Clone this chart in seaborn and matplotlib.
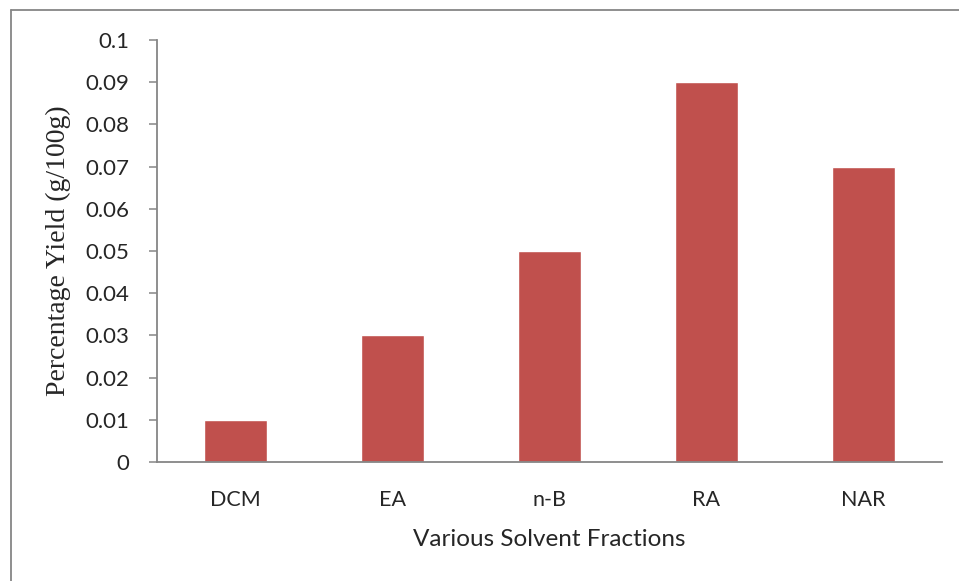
import matplotlib as mpl
mpl.use('Agg')
import matplotlib.pyplot as plt
from matplotlib.lines import Line2D
import seaborn as sns
import pandas as pd

fractions = ['DCM', 'EA', 'n-B', 'RA', 'NAR']
yields = [0.01, 0.03, 0.05, 0.09, 0.07]
yticks = [0, 0.01, 0.02, 0.03, 0.04, 0.05, 0.06, 0.07, 0.08, 0.09, 0.1]
ytick_labels = ['0', '0.01', '0.02', '0.03', '0.04', '0.05', '0.06', '0.07', '0.08', '0.09', '0.1']

df = pd.DataFrame({'fraction': fractions, 'yield': yields})

sns.set_style('white')
plt.rcParams['font.family'] = ['Lato', 'DejaVu Sans']

W, H = 959, 581
fig = plt.figure(figsize=(W / 100, H / 100), dpi=100)
ax = fig.add_axes([157 / W, 1 - 462 / H, (942 - 157) / W, (462 - 40) / H])

sns.barplot(data=df, x='fraction', y='yield', color='#C0504D', saturation=1,
            width=0.4, ax=ax)

ax.set_ylim(0, 0.1)
ax.set_xlim(-0.5, 4.5)
ax.set_yticks(yticks)
ax.set_yticklabels(ytick_labels, fontsize=16)
ax.tick_params(axis='y', direction='out', length=6, width=1.1, color='#868686',
               left=True, pad=14)
ax.tick_params(axis='x', length=0, labelsize=15.5, pad=20)

for s in ['top', 'right']:
    ax.spines[s].set_visible(False)
for s in ['left', 'bottom']:
    ax.spines[s].set_color('#868686')
    ax.spines[s].set_linewidth(1.3)

ax.set_xlabel('Various Solvent Fractions', fontsize=17.5, labelpad=14)
ax.set_ylabel('Percentage Yield (g/100g)', fontsize=20,
              family='Liberation Serif', labelpad=10)

# outer chart frame (partly cropped)
fig.add_artist(Line2D([11 / W, 11 / W], [0, 1 - 10 / H], transform=fig.transFigure,
                      color='#868686', lw=1.3))
fig.add_artist(Line2D([11 / W, 1], [1 - 10 / H, 1 - 10 / H], transform=fig.transFigure,
                      color='#868686', lw=1.3))

fig.savefig('out.png', dpi=100)
